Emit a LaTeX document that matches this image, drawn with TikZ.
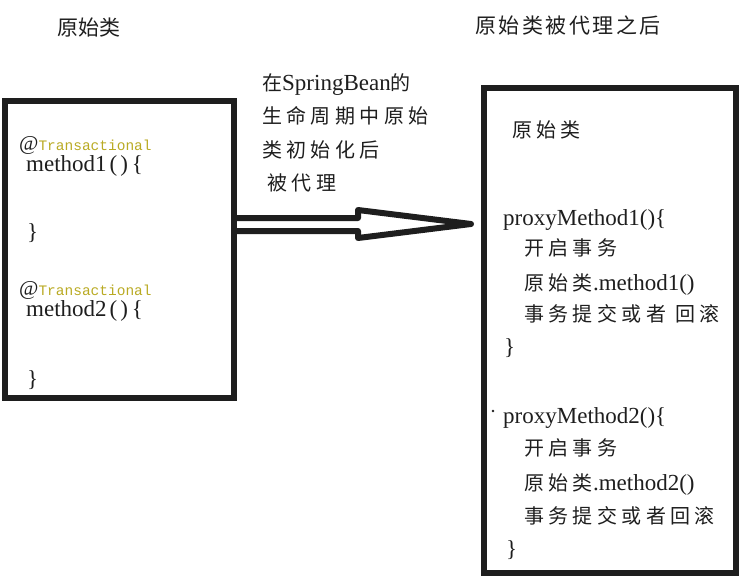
\documentclass[tikz,border=0pt]{standalone}
\usepackage{fontspec}
\setmainfont{Liberation Serif}
\setmonofont{Liberation Mono}
\newfontfamily\cjk{Noto Sans CJK SC}
\newfontfamily\cjkwide[LetterSpace=12]{Noto Sans CJK SC}
\newfontfamily\cjkbox[LetterSpace=22]{Noto Sans CJK SC}
\usetikzlibrary{positioning}
\definecolor{ink}{RGB}{30,30,30}
\definecolor{annot}{RGB}{185,170,35}
\newcommand{\zh}[1]{{\cjkbox\fontsize{20}{24}\selectfont #1}}

\begin{document}
\begin{tikzpicture}[x=1pt, y=-1pt, ink,
  frame/.style={draw, line width=6pt, minimum width=#1, inner sep=0pt},
  blockarrow/.style={draw, line width=6pt, line join=round},
  heading/.style={anchor=base west, inner sep=0pt, font=\cjk\fontsize{21}{25}\selectfont},
  codeline/.style={anchor=base west, inner sep=0pt, font=\fontsize{23}{27}\selectfont},
  tag/.style={anchor=base west, inner sep=0pt, font=\fontsize{21}{24}\selectfont}]
  \useasboundingbox (0,0) rectangle (740,576);
  % titles
  \node[heading] (t1) at (57,35) {原始类};
  \node[heading, font=\cjkwide\fontsize{21}{25}\selectfont] (t2) at (475,33.5) {原始类被代理之后};
  % the two classes
  \node[frame=229.5pt, minimum height=297pt] (orig) at (119.25,249.5) {};
  \node[frame=252pt, minimum height=485pt] (proxy) at (610,330.5) {};
  % left box
  \node[tag] (at1) at (19,150) {@\textcolor{annot}{\ttfamily\fontsize{14.5}{17}\selectfont Transactional}};
  \node[codeline] (m1) at (26,171.5) {method1\kern3pt(\kern3pt)\kern4pt\{};
  \node[codeline] (c1) at (27,239) {\}};
  \node[tag] (at2) at (19,295) {@\textcolor{annot}{\ttfamily\fontsize{14.5}{17}\selectfont Transactional}};
  \node[codeline] (m2) at (26,316.5) {method2\kern3pt(\kern3pt)\kern4pt\{};
  \node[codeline] (c2) at (27,386) {\}};
  % note and arrow
  \node[anchor=north west, inner sep=0pt, align=left,
        font=\cjkbox\fontsize{20}{33.5}\selectfont] (note) at (262,73)
       {在{\fontspec{Liberation Serif}\fontsize{23}{33.5}\selectfont SpringBean}的\\生命周期中原始\\类初始化后\\\hspace{5pt}被代理};
  \coordinate (tail) at (236,224.5);
  \coordinate (tip) at (471,224);
  \draw[blockarrow] (tail) ++(0,-6.5) -- ++(122,0) -- ++(0,-8) -- (tip)
    -- ++(-113,14) -- ++(0,-7) -- ++(-122,0);
  % right box
  \node[codeline] (r0) at (512,137.5) {\zh{原始类}};
  \node[codeline] (p1) at (503,225) {proxyMethod1()\{};
  \node[codeline] (p1a) at (524,255) {\zh{开启事务}};
  \node[codeline] (p1b) at (524,290.5) {\zh{原始类}.method1()};
  \node[codeline] (p1c) at (524,321.5) {\zh{事务提交或者 回滚}};
  \node[codeline] (p1d) at (504,354) {\}};
  \fill (493,411) circle (1.3pt);
  \node[codeline] (p2) at (503,423) {proxyMethod2()\{};
  \node[codeline] (p2a) at (524,455) {\zh{开启事务}};
  \node[codeline] (p2b) at (524,490) {\zh{原始类}.method2()};
  \node[codeline] (p2c) at (524,523.5) {\zh{事务提交或者回滚}};
  \node[codeline] (p2d) at (506,556) {\}};
\end{tikzpicture}
\end{document}
